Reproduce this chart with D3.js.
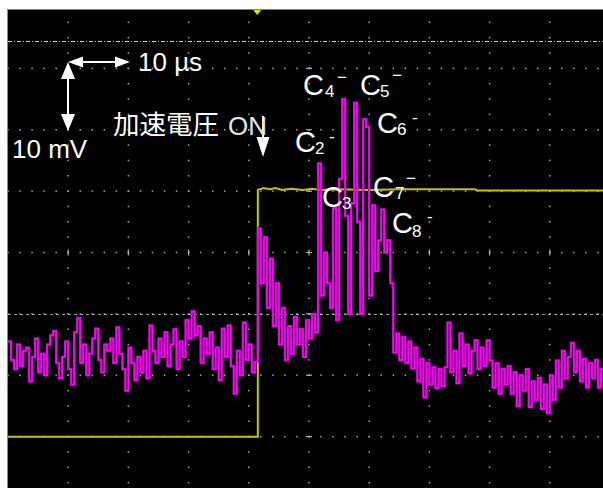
<!DOCTYPE html>
<html>
<head>
<meta charset="utf-8">
<script src="https://cdn.jsdelivr.net/npm/d3@7"></script>
<style>
    body { margin: 0; background: #fff; }
    svg { display: block; }
    .lbl { fill: #fff; font-family: "Liberation Sans", Arial, sans-serif; }
    .cjk { fill: #fff; font-family: "Noto Sans CJK JP", sans-serif; }
</style>
</head>
<body>
<svg id="scope" width="603" height="488"></svg>
<script>
"use strict";

//Magenta channel: one sample every 0.5 us, values in mV
var magentaStep = 0.5;
var magentaValues = [
    -14.5, -17.5, -19, -15, -18.5, -16, -15.5, -21, -17, -14,
    -19.5, -16.5, -20, -15, -13.5, -12.8, -18, -20.5, -17, -14.5,
    -19, -21.5, -13, -10.7, -18, -15, -20, -16.5, -14, -12.4,
    -17.5, -19.5, -15, -16, -14, -18, -12.2, -16.5, -19, -22.5,
    -15.5, -18, -20.8, -17, -19.5, -16, -20.5, -11.9, -16, -18,
    -14, -17, -13, -18.5, -15, -12.5, -19, -14.5, -17, -11,
    -14, -9.6, -13.5, -12, -18, -14, -16.5, -13, -19, -15.5,
    -20.8, -12.4, -17, -11.9, -18.5, -23, -16, -20, -11.4, -17.5,
    -15, -19.5, -17.8,
    //accelerating voltage switched on
    3.9, -5, 2.5, -9, -1, -12, -5, -15, -9, -17.5,
    -12, -16.5, -10.5, -15, -12.5, -17, -11, -14, -10, -13,
    //cluster peaks C2..C8
    14.5, -7, 0, -5, -9, 7.2, -11, 12, 25, 6,
    -10, 8, 24.4, 5, -10, 21.7, 20.5, -7, 7.7, -3,
    2, 7, 0, 2, -5,
    //tail
    -16.3, -13.2, -17.5, -13.8, -18, -14.5, -18.9, -15.5, -21, -17.3,
    -23.6, -18, -21.5, -18.7, -22.1, -19, -21.8, -18.7, -11.4, -19.5,
    -16, -21.3, -13.2, -18.5, -15, -19.7, -16, -14.3, -19, -15.5,
    -18.5, -14.3, -17.6, -22, -18, -23, -19, -21.5, -18.5, -23,
    -19.5, -25, -20, -22.5, -19, -25.2, -21, -24, -20.4, -25.5,
    -21.5, -26.2, -20, -24, -17.6, -22, -16, -20.5, -17, -14.7,
    -19.5, -16, -21, -17.3, -22, -18, -20.5, -17.5, -22, -19,
    -21
];

//Yellow channel (accelerating voltage), time in us / level in div*10
var yellowTimes = [0, 41.5, 41.5, 42.5, 43.5, 44.5, 45.5, 47, 49, 50.5, 52, 55, 60, 65, 70, 77.5, 78, 100];
var yellowValues = [-30, -30, 10.2, 10.5, 10.3, 10.5, 10.2, 10.4, 10.2, 10.4, 10.2, 10.3, 10.2, 10.3, 10.3, 10.3, 10.1, 10.1];

//Cursor levels (mV) and trigger time (us)
var cursorLevels = [34.4, -10.1];
var triggerTime = 41.4;

//Peak labels
var peakNames = ["C", "C", "C", "C", "C", "C", "C"];
var peakSubs = ["2", "3", "4", "5", "6", "7", "8"];
var peakSups = ["-", "", "\u2212", "\u2212", "-", "\u2212", "-"];

//Label layout (pixels): C baseline, subscript x, superscript x/y
var peakLayout = [
    { x: 295, y: 152, sx: 315, sy: 154, px: 329, py: 142 },
    { x: 322, y: 207, sx: 342, sy: 209, px: 0, py: 0 },
    { x: 303, y: 95, sx: 325, sy: 97, px: 337, py: 83 },
    { x: 360, y: 95, sx: 380, sy: 97, px: 392, py: 81 },
    { x: 377, y: 133, sx: 397, sy: 135, px: 412, py: 123 },
    { x: 373, y: 197, sx: 395, sy: 199, px: 406, py: 184 },
    { x: 392, y: 233, sx: 412, sy: 237, px: 427, py: 222 }
];

var width = 603, height = 488;
var svg = d3.select("#scope");

//10 us/div and 10 mV/div
var x = d3.scaleLinear().domain([0, 100]).range([8, 610]);
var y = d3.scaleLinear().domain([-40, 40]).range([498, 7]);

//White margin and black screen
svg.append("rect").attr("width", width).attr("height", height).attr("fill", "#fff");
svg.append("rect")
    .attr("x", 7).attr("y", 9.5)
    .attr("width", width - 7).attr("height", height - 9.5)
    .attr("fill", "#000");
svg.append("line")
    .attr("x1", 7.5).attr("x2", 7.5).attr("y1", 9.5).attr("y2", height)
    .attr("stroke", "#8a8a8a").attr("stroke-width", 1);

svg.append("clipPath").attr("id", "screen")
    .append("rect")
    .attr("x", 8).attr("y", 9.5)
    .attr("width", width - 8).attr("height", height - 9.5);

var grid = svg.append("g").attr("clip-path", "url(#screen)");

//Grid dots
var colTimes = d3.range(10, 100, 10);
var rowLevels = d3.range(-30, 31, 10);
var dots = [];
colTimes.forEach(function (t) {
    d3.range(-40, 40.1, 2.5).forEach(function (v) {
        dots.push([x(t), y(v)]);
    });
});
rowLevels.forEach(function (v) {
    d3.range(0, 100.1, 2).forEach(function (t) {
        dots.push([x(t), y(v)]);
    });
});
grid.selectAll("rect.dot")
    .data(dots)
    .enter().append("rect")
    .attr("class", "dot")
    .attr("x", function (d) { return d[0] - 0.75; })
    .attr("y", function (d) { return d[1] - 0.75; })
    .attr("width", 1.5).attr("height", 1.5)
    .attr("fill", "#a6a6a6");

//Center axis ticks
grid.selectAll("line.htick")
    .data(rowLevels)
    .enter().append("line")
    .attr("class", "htick")
    .attr("x1", x(50) - 3).attr("x2", x(50) + 3)
    .attr("y1", function (d) { return y(d); })
    .attr("y2", function (d) { return y(d); })
    .attr("stroke", "#b0b0b0").attr("stroke-width", 1.2);
grid.selectAll("line.vtick")
    .data(colTimes)
    .enter().append("line")
    .attr("class", "vtick")
    .attr("x1", function (d) { return x(d); })
    .attr("x2", function (d) { return x(d); })
    .attr("y1", y(0) - 3).attr("y2", y(0) + 3)
    .attr("stroke", "#b0b0b0").attr("stroke-width", 1.2);

//Cursors
grid.selectAll("line.cursor")
    .data(cursorLevels)
    .enter().append("line")
    .attr("class", "cursor")
    .attr("x1", 8).attr("x2", width)
    .attr("y1", function (d) { return Math.round(y(d)) + 0.5; })
    .attr("y2", function (d) { return Math.round(y(d)) + 0.5; })
    .attr("stroke", function (d, i) { return i == 0 ? "#d0d0d0" : "#a0a0a0"; })
    .attr("stroke-width", 1)
    .attr("stroke-dasharray", function (d, i) { return i == 0 ? "4,2,1,2" : "3,3"; });

//Trigger marker
svg.append("path")
    .attr("d", "M" + (x(triggerTime) - 4) + ",10L" + (x(triggerTime) + 4) + ",10L" + x(triggerTime) + ",15Z")
    .attr("fill", "#e0e000");

//Traces
var yellowLine = d3.line()
    .x(function (d, i) { return x(yellowTimes[i]); })
    .y(function (d) { return y(d); });
grid.append("path")
    .attr("d", yellowLine(yellowValues))
    .attr("fill", "none")
    .attr("stroke", "#c4c400")
    .attr("stroke-width", 2);

var magentaLine = d3.line()
    .x(function (d, i) { return x(i * magentaStep); })
    .y(function (d) { return y(d); })
    .curve(d3.curveStepAfter);
//darker edge under the bright trace
grid.append("path")
    .attr("d", magentaLine(magentaValues))
    .attr("fill", "none")
    .attr("stroke", "#b000b0")
    .attr("stroke-width", 2.4);
grid.append("path")
    .attr("d", magentaLine(magentaValues))
    .attr("fill", "none")
    .attr("stroke", "#ff00ff")
    .attr("stroke-width", 1.6);

//Scale arrows
function arrowHead(g, tx, ty, dir, len, half) {
    //dir: unit vector pointing at the tip
    var bx = tx - dir[0] * len, by = ty - dir[1] * len;
    var px = -dir[1] * half, py = dir[0] * half;
    g.append("path")
        .attr("d", "M" + tx + "," + ty + "L" + (bx + px) + "," + (by + py) + "L" + (bx - px) + "," + (by - py) + "Z")
        .attr("fill", "#fff");
}
var ann = svg.append("g");
ann.append("line").attr("x1", 74).attr("x2", 124).attr("y1", 62).attr("y2", 62)
    .attr("stroke", "#fff").attr("stroke-width", 2);
arrowHead(ann, 68, 62, [-1, 0], 15, 5.5);
arrowHead(ann, 130, 62, [1, 0], 15, 5.5);
ann.append("line").attr("x1", 68).attr("x2", 68).attr("y1", 70).attr("y2", 124)
    .attr("stroke", "#fff").attr("stroke-width", 2);
arrowHead(ann, 68, 62, [0, -1], 17, 7);
arrowHead(ann, 68, 131, [0, 1], 17, 7);
ann.append("line").attr("x1", 263).attr("x2", 263).attr("y1", 116).attr("y2", 145)
    .attr("stroke", "#fff").attr("stroke-width", 2);
arrowHead(ann, 263, 157, [0, 1], 20, 6.5);

//Scale texts
ann.append("text").attr("class", "lbl").attr("x", 138).attr("y", 71)
    .style("font-size", "26px").text("10 \u00b5s");
ann.append("text").attr("class", "lbl").attr("x", 12).attr("y", 158)
    .style("font-size", "26px").text("10 mV");
ann.append("text").attr("class", "cjk").attr("x", 113).attr("y", 134)
    .style("font-size", "26.5px").text("加速電圧");
ann.append("text").attr("class", "lbl").attr("x", 228).attr("y", 135)
    .style("font-size", "26px").style("fill", "#e6e6e6").text("ON");

//Peak labels
peakNames.forEach(function (n, i) {
    var p = peakLayout[i];
    ann.append("text").attr("class", "lbl").attr("x", p.x).attr("y", p.y)
        .style("font-size", "29px").text(n);
    ann.append("text").attr("class", "lbl").attr("x", p.sx).attr("y", p.sy)
        .style("font-size", "17px").text(peakSubs[i]);
    if (peakSups[i]) {
        ann.append("text").attr("class", "lbl").attr("x", p.px).attr("y", p.py)
            .style("font-size", "17px").text(peakSups[i]);
    }
});
</script>
</body>
</html>
